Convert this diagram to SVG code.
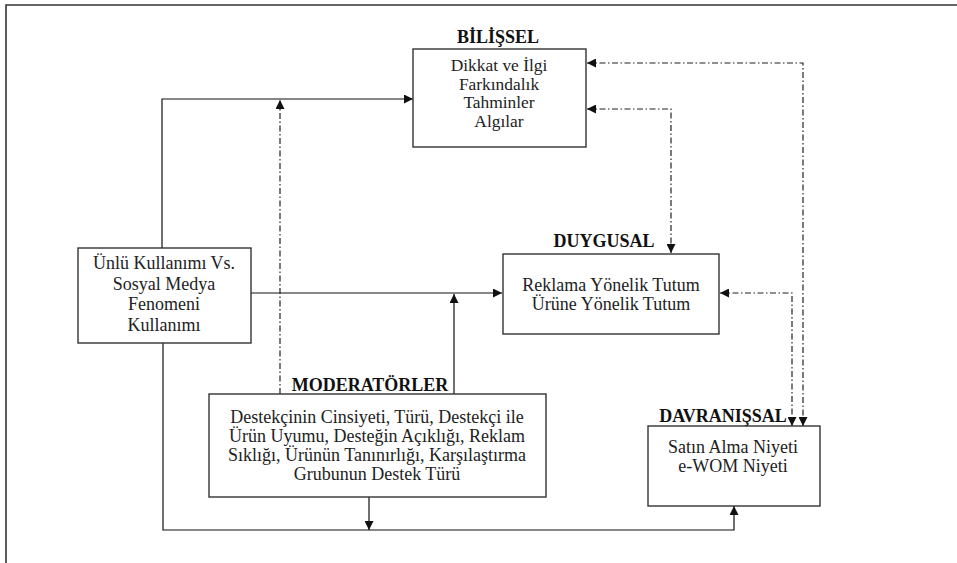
<svg xmlns="http://www.w3.org/2000/svg" width="957" height="563" viewBox="0 0 957 563">
<defs>
<style>
.box{fill:#fff;stroke:#333;stroke-width:1.4}
.t{font-family:'Liberation Serif','DejaVu Serif',serif;font-size:18px;fill:#222;text-anchor:middle}
.s{font-size:17.4px}
.h{font-family:'Liberation Serif','DejaVu Serif',serif;font-size:18px;font-weight:bold;fill:#111;text-anchor:middle}
.c{fill:none;stroke:#111;stroke-width:1.2}
.d{fill:none;stroke:#222;stroke-width:1.2;stroke-dasharray:6 2.5 1.5 2.5}
</style>
<marker id="a" viewBox="0 0 10 10" refX="10" refY="5" markerWidth="9" markerHeight="9" markerUnits="userSpaceOnUse" orient="auto-start-reverse">
<path d="M0,0 L10,5 L0,10 Z" fill="#111"/>
</marker>
</defs>
<rect width="957" height="563" fill="#fff"/>
<path d="M6,563 V5 H957" fill="none" stroke="#333" stroke-width="1.6"/>

<g id="connectors">
<polyline class="c" points="162,248 162,99 413,99" marker-end="url(#a)"/>
<line class="c" x1="251" y1="293" x2="502" y2="293" marker-end="url(#a)"/>
<line class="c" x1="454" y1="394" x2="454" y2="294" marker-end="url(#a)"/>
<line class="c" x1="369" y1="497" x2="369" y2="530" marker-end="url(#a)"/>
<polyline class="c" points="163,343 163,530 734,530 734,506" marker-end="url(#a)"/>
<line class="d" x1="280" y1="394" x2="280" y2="100" marker-end="url(#a)"/>
<polyline class="d" points="587,63 803,63 803,426" marker-start="url(#a)" marker-end="url(#a)"/>
<polyline class="d" points="587,109 671,109 671,253" marker-start="url(#a)" marker-end="url(#a)"/>
<polyline class="d" points="720,293 792,293 792,426" marker-start="url(#a)" marker-end="url(#a)"/>
</g>

<g id="bilissel">
<text class="h" x="498" y="43">BİLİŞSEL</text>
<rect class="box" x="413" y="49" width="173" height="98"/>
<text class="t s" x="499" y="71">Dikkat ve İlgi</text>
<text class="t s" x="499" y="89.5">Farkındalık</text>
<text class="t s" x="499" y="108">Tahminler</text>
<text class="t s" x="499" y="126.5">Algılar</text>
</g>

<g id="unlu">
<rect class="box" x="78" y="248" width="173" height="95"/>
<text class="t" x="164" y="269">Ünlü Kullanımı Vs.</text>
<text class="t" x="164" y="290">Sosyal Medya</text>
<text class="t" x="164" y="310">Fenomeni</text>
<text class="t" x="164" y="331">Kullanımı</text>
</g>

<g id="duygusal">
<text class="h" x="604" y="247">DUYGUSAL</text>
<rect class="box" x="503" y="254" width="216" height="80"/>
<text class="t" x="611" y="291">Reklama Yönelik Tutum</text>
<text class="t" x="611" y="310">Ürüne Yönelik Tutum</text>
</g>

<g id="moderatorler">
<text class="h" x="370" y="391">MODERATÖRLER</text>
<rect class="box" x="209" y="394" width="337" height="103"/>
<text class="t" x="377" y="423">Destekçinin Cinsiyeti, Türü, Destekçi ile</text>
<text class="t" x="377" y="442">Ürün Uyumu, Desteğin Açıklığı, Reklam</text>
<text class="t" x="377" y="461">Sıklığı, Ürünün Tanınırlığı, Karşılaştırma</text>
<text class="t" x="377" y="480">Grubunun Destek Türü</text>
</g>

<g id="davranissal">
<text class="h" x="723" y="422">DAVRANIŞSAL</text>
<rect class="box" x="648" y="426" width="172" height="80"/>
<text class="t" x="733" y="453">Satın Alma Niyeti</text>
<text class="t" x="733" y="472">e-WOM Niyeti</text>
</g>
</svg>
